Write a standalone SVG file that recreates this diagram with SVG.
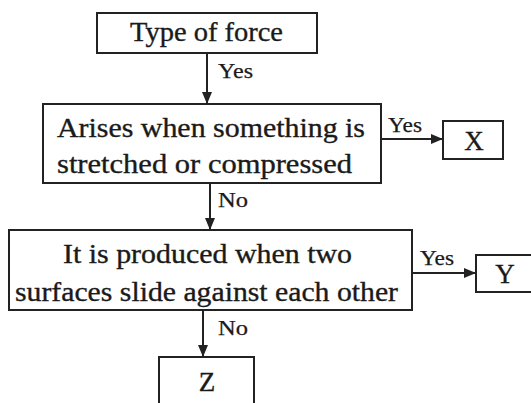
<svg xmlns="http://www.w3.org/2000/svg" width="531" height="403" viewBox="0 0 531 403">
<style>
.box{fill:#fff;stroke:#222;stroke-width:2}
.t{font-family:"Liberation Serif","Times New Roman",serif;font-size:27px;fill:#1a1a1a;stroke:#1a1a1a;stroke-width:0.35}
.l{font-family:"Liberation Serif","Times New Roman",serif;font-size:22px;fill:#1a1a1a;stroke:#1a1a1a;stroke-width:0.25}
.c{stroke:#222;stroke-width:2;fill:none}
</style>
<defs>
<marker id="ah" markerWidth="12" markerHeight="10" refX="11" refY="5" orient="auto" markerUnits="userSpaceOnUse">
<path d="M0,0 L12,5 L0,10 Z" fill="#222"/>
</marker>
</defs>
<rect width="531" height="403" fill="#fff"/>
<g id="connectors">
<line class="c" x1="207" y1="53" x2="207" y2="103" marker-end="url(#ah)"/>
<line class="c" x1="210" y1="183" x2="210" y2="229" marker-end="url(#ah)"/>
<line class="c" x1="203" y1="310" x2="203" y2="356" marker-end="url(#ah)"/>
<line class="c" x1="381" y1="139" x2="442" y2="139" marker-end="url(#ah)"/>
<line class="c" x1="412" y1="273" x2="475" y2="273" marker-end="url(#ah)"/>
<text class="l" x="218" y="78" textLength="35" lengthAdjust="spacingAndGlyphs">Yes</text>
<text class="l" x="218" y="207" textLength="30" lengthAdjust="spacingAndGlyphs">No</text>
<text class="l" x="218" y="335" textLength="30" lengthAdjust="spacingAndGlyphs">No</text>
<text class="l" x="388" y="132" textLength="34" lengthAdjust="spacingAndGlyphs">Yes</text>
<text class="l" x="420" y="265" textLength="34" lengthAdjust="spacingAndGlyphs">Yes</text>
</g>
<g id="n1">
<rect class="box" x="97" y="13" width="220" height="40"/>
<text class="t" x="130" y="41" textLength="153" lengthAdjust="spacingAndGlyphs">Type of force</text>
</g>
<g id="n2">
<rect class="box" x="43" y="104" width="338" height="79"/>
<text class="t" x="57" y="137" textLength="308" lengthAdjust="spacingAndGlyphs">Arises when something is</text>
<text class="t" x="57" y="173" textLength="295" lengthAdjust="spacingAndGlyphs">stretched or compressed</text>
</g>
<g id="nX">
<rect class="box" x="443" y="121" width="60" height="38"/>
<text class="t" x="474" y="150" text-anchor="middle">X</text>
</g>
<g id="n3">
<rect class="box" x="9" y="230" width="403" height="80"/>
<text class="t" x="63" y="263" textLength="289" lengthAdjust="spacingAndGlyphs">It is produced when two</text>
<text class="t" x="15" y="301" textLength="383" lengthAdjust="spacingAndGlyphs">surfaces slide against each other</text>
</g>
<g id="nY">
<rect class="box" x="476" y="255" width="62" height="37"/>
<text class="t" x="505" y="283" text-anchor="middle">Y</text>
</g>
<g id="nZ">
<rect class="box" x="159" y="357" width="95" height="50"/>
<text class="t" x="207" y="391" text-anchor="middle">Z</text>
</g>
</svg>
